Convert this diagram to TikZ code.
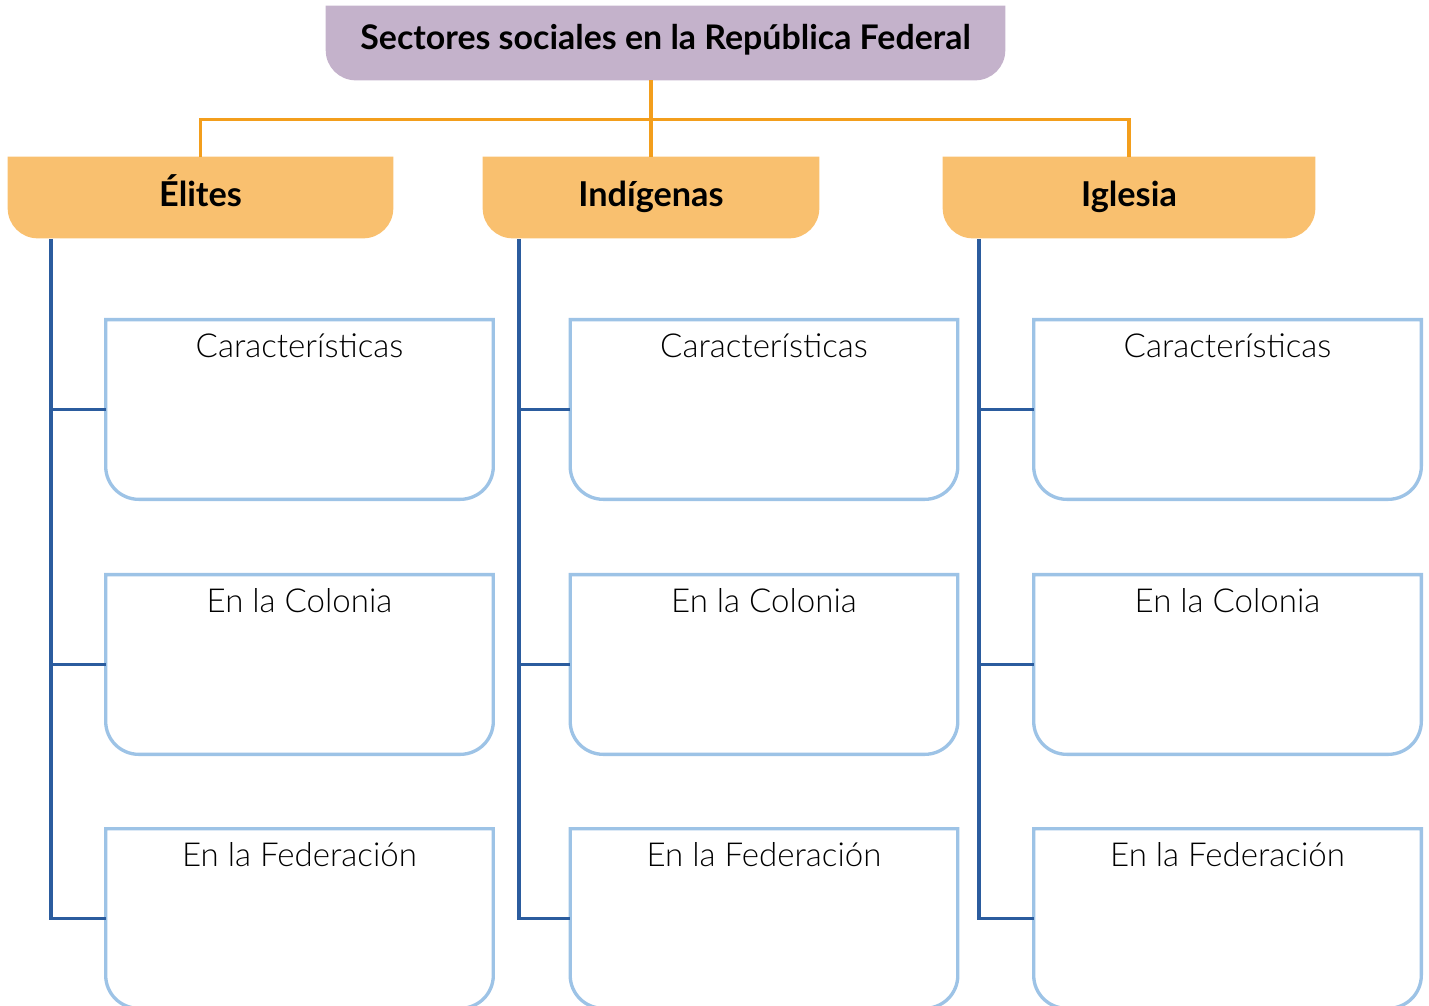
\documentclass[tikz,border=0pt]{standalone}
\usepackage{fontspec}
\setmainfont{Lato}
\newfontfamily\lightfont{Lato Light}
\usepackage{tikz}
\usetikzlibrary{positioning, backgrounds}

\definecolor{titlelila}{HTML}{C4B2CB}
\definecolor{groupgold}{HTML}{F9C06F}
\definecolor{linkorange}{HTML}{F39E1C}
\definecolor{treeblue}{HTML}{2B5C9E}
\definecolor{itemblue}{HTML}{9DC3E6}

\begin{document}
\begin{tikzpicture}[x=0.02cm, y=-0.02cm,
        headbox/.style={inner sep=0pt, text height=0.88cm, text depth=0.60cm, minimum width=13.58cm,
            font=\fontsize{19.3}{21}\selectfont\bfseries},
        groupbox/.style={inner sep=0pt, text height=1.0cm, text depth=0.62cm,
            font=\fontsize{19.5}{21}\selectfont\bfseries},
        itembox/.style={inner sep=0pt, text height=0.74cm, text depth=2.84cm, minimum width=7.74cm,
            font=\lightfont\fontsize{18.8}{21}\selectfont},
        orangeline/.style={line width=1.8pt, draw=linkorange},
        treeline/.style={line width=1.8pt, draw=treeblue},
        itemline/.style={line width=1.9pt, draw=itemblue, fill=white}]
                \useasboundingbox (0,0) rectangle (1429,1006);
                % nodes
                \node[headbox] (title) at (665.5,43) {Sectores sociales en la República Federal};
                \node[groupbox, minimum width=7.70cm] (elites) at (200.5,197.5) {Élites};
                \node[groupbox, minimum width=6.72cm] (indigenas) at (651,197.5) {Indígenas};
                \node[groupbox, minimum width=7.44cm] (iglesia) at (1129,197.5) {Iglesia};
                \foreach \col/\x in {e/299.5, i/764, g/1227.5} {
                    \node[itembox] (\col1) at (\x,409.5) {Características};
                    \node[itembox] (\col2) at (\x,664.5) {En la Colonia};
                    \node[itembox] (\col3) at (\x,918.5) {En la Federación};
                }
                % shapes, bottom corners rounded
                \begin{scope}[on background layer]
                \fill[titlelila] (title.north east) [rounded corners=0.6cm] -- (title.south east)
                    -- (title.south west) [sharp corners] -- (title.north west) -- cycle;
                \foreach \n in {elites, indigenas, iglesia}
                    \fill[groupgold] (\n.north east) [rounded corners=0.6cm] -- (\n.south east)
                        -- (\n.south west) [sharp corners] -- (\n.north west) -- cycle;
                \foreach \n in {e1,e2,e3,i1,i2,i3,g1,g2,g3}
                    \path[itemline] (\n.north east) [rounded corners=0.66cm] -- (\n.south east)
                        -- (\n.south west) [sharp corners] -- (\n.north west) -- cycle;
                \end{scope}
                % orange links
                \draw[orangeline] (title.south -| indigenas.north) -- (indigenas.north);
                \draw[orangeline] (elites.north) -- ++(0,-37) -| (iglesia.north);
                % blue trees
                \coordinate (eT) at (51,239);
                \coordinate (iT) at (519,239);
                \coordinate (gT) at (979,239);
                \foreach \col in {e, i, g} {
                    \draw[treeline] (\col T) |- (\col3.west);
                    \draw[treeline] (\col1.west) -- (\col1.west -| \col T);
                    \draw[treeline] (\col2.west) -- (\col2.west -| \col T);
                }
            \end{tikzpicture}
\end{document}
